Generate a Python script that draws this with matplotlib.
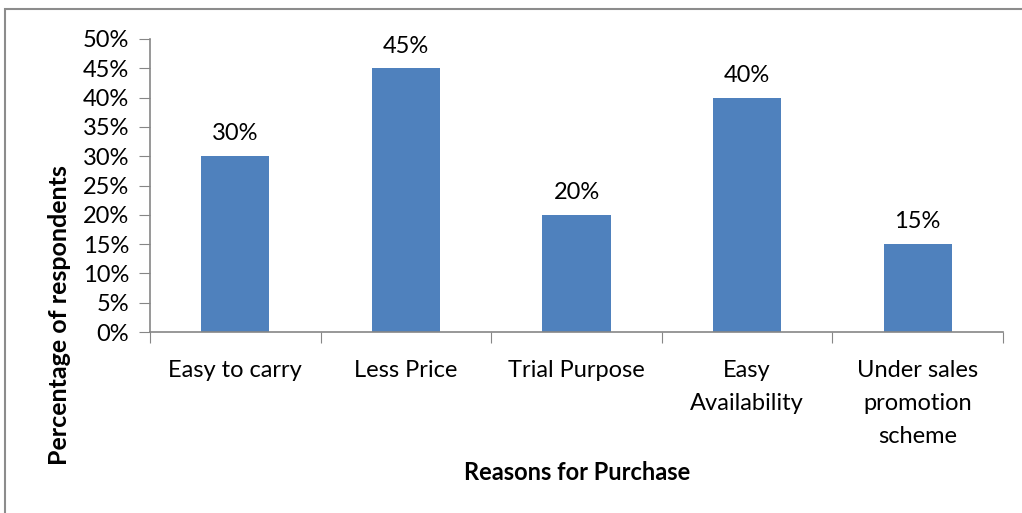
import matplotlib.pyplot as plt
import matplotlib.patches as patches
import numpy as np

# data
reasons = ["Easy to carry", "Less Price", "Trial Purpose", "Easy\nAvailability", "Under sales\npromotion\nscheme"]
percent = [30, 45, 20, 40, 15]
yticks = [0, 5, 10, 15, 20, 25, 30, 35, 40, 45, 50]

plt.rcParams['font.family'] = ['Lato', 'DejaVu Sans']

fig = plt.figure(figsize=(10.22, 5.13), dpi=100)
ax = fig.add_axes([0.1468, 0.3528, 0.8346, 0.5712])

x = np.arange(len(reasons))
ax.bar(x, percent, width=0.4, color="#4f81bd")
for xi, v in zip(x, percent):
    ax.text(xi, v + 2.0, f"{v}%", ha="center", va="bottom", fontsize=17)

ax.set_xlim(-0.5, len(reasons) - 0.5)
ax.set_ylim(0, 50)
ax.set_yticks(yticks)
ax.set_yticklabels([f"{t}%" for t in yticks], fontsize=17)
ax.set_xticks(np.arange(len(reasons) + 1) - 0.5)
ax.set_xticklabels([])
ax.set_xticks(x, minor=True)
ax.set_xticklabels(reasons, minor=True, fontsize=17, linespacing=1.7, va="top")
ax.tick_params(axis="x", which="minor", length=0, pad=20)
ax.tick_params(axis="x", which="major", length=8, color="#868686", direction="out")
ax.tick_params(axis="y", length=8, color="#868686", direction="out", pad=7)

for side in ["top", "right"]:
    ax.spines[side].set_visible(False)
for side in ["left", "bottom"]:
    ax.spines[side].set_color("#868686")
    ax.spines[side].set_linewidth(1.2)

fig.text(0.0587, 0.386, "Percentage of respondents", rotation=90, ha="center", va="center",
         fontsize=18, fontweight="bold")
fig.text(0.565, 0.078, "Reasons for Purchase", ha="center", va="center",
         fontsize=17, fontweight="bold")

# outer chart frame
fig.patches.append(patches.Rectangle((0.005, -0.05), 1.2, 1.033, transform=fig.transFigure,
                                     fill=False, edgecolor="#8c8c8c", linewidth=1.5))

fig.savefig("out.png", dpi=100)
